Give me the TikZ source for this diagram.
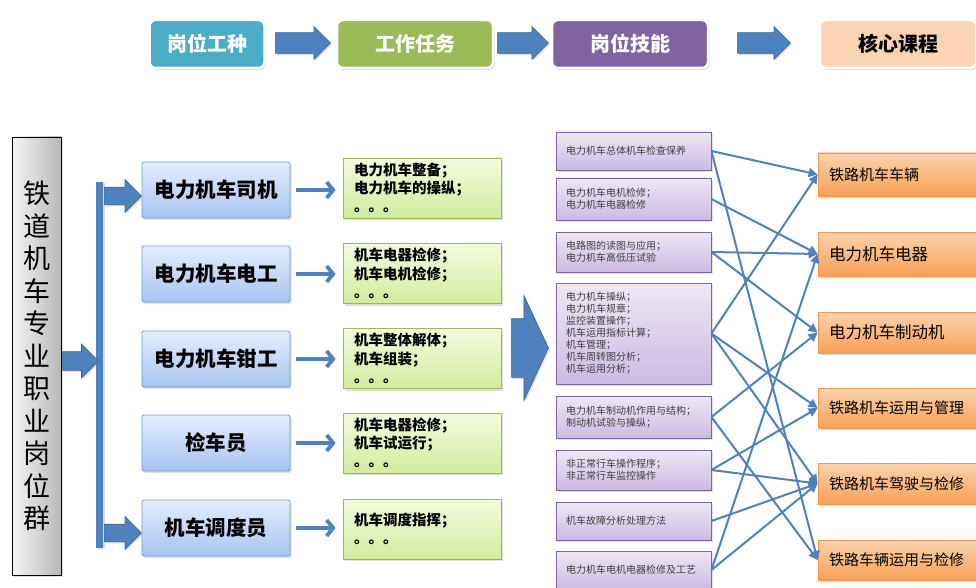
\documentclass[tikz,border=0pt]{standalone}
\usepackage{fontspec}
\setmainfont{Noto Sans CJK SC}
\usetikzlibrary{shapes.arrows, shadows, arrows.meta, positioning}

\definecolor{arrowblue}{HTML}{4F81BD}
\definecolor{arrowedge}{HTML}{3A6598}
\definecolor{hteal}{HTML}{4BACC6}
\definecolor{hgreen}{HTML}{9BBB59}
\definecolor{hpurple}{HTML}{8064A2}
\definecolor{hpeach}{HTML}{FBD4B4}
\definecolor{roletop}{HTML}{E4EEFC}
\definecolor{rolebot}{HTML}{A6C4F0}
\definecolor{roleedge}{HTML}{6F9DD8}
\definecolor{tasktop}{HTML}{F3FADF}
\definecolor{taskbot}{HTML}{D2EC9C}
\definecolor{skilltop}{HTML}{EEE8F5}
\definecolor{skillbot}{HTML}{CBBAE1}
\definecolor{coursetop}{HTML}{FCD3AE}
\definecolor{coursebot}{HTML}{F8A055}
\definecolor{courseedge}{HTML}{F79646}

\tikzset{
  head/.style={draw=white, line width=2.5pt, rounded corners=6pt,
    minimum width=156pt, minimum height=48pt, text=white,
    font=\fontsize{20}{24}\selectfont\bfseries,
    drop shadow={opacity=.3, shadow xshift=1.5pt, shadow yshift=-2pt}},
  fatarrow/.style={single arrow, draw=arrowedge, fill=arrowblue, anchor=tail,
    inner xsep=0pt, line width=.7pt,
    drop shadow={opacity=.25, shadow xshift=1.5pt, shadow yshift=-1.5pt}},
  role/.style={draw=roleedge, line width=.8pt, rounded corners=1.5pt,
    top color=roletop, bottom color=rolebot, minimum width=148pt, minimum height=56pt,
    font=\fontsize{20.5}{24}\selectfont\bfseries,
    drop shadow={opacity=.25, shadow xshift=1.5pt, shadow yshift=-2pt}},
  task/.style={draw=hgreen, line width=.8pt, top color=tasktop, bottom color=taskbot,
    minimum height=60pt, text width=136pt, inner xsep=11pt, align=left,
    font=\fontsize{14.5}{18.3}\selectfont\bfseries,
    drop shadow={opacity=.25, shadow xshift=1.5pt, shadow yshift=-2pt}},
  skill/.style={draw=hpurple, line width=.8pt, top color=skilltop,
    bottom color=skillbot, minimum width=155pt, text width=135pt,
    inner xsep=10pt, align=left, text=black!75,
    font=\fontsize{10}{12}\selectfont,
    drop shadow={opacity=.25, shadow xshift=1.5pt, shadow yshift=-2pt}},
  course/.style={draw=courseedge, line width=.8pt, top color=coursetop,
    bottom color=coursebot, minimum width=170pt, text width=148pt,
    inner xsep=11pt, align=left, font=\fontsize{15}{18}\selectfont,
    drop shadow={opacity=.25, shadow xshift=1.5pt, shadow yshift=-2pt}},
  todo/.style={draw=arrowblue, line width=3.8pt,
    -{Straight Barb[length=6.5pt,width=16pt]}, shorten <=6pt, shorten >=7pt},
  link/.style={draw=arrowblue, line width=2pt,
    -{Triangle[length=9pt,width=9pt]}}
}

\begin{document}
\begin{tikzpicture}[x=1pt, y=-1pt]
  \useasboundingbox (0,0) rectangle (976,588);

  % header row
  \node[head, fill=hteal, minimum width=115pt] (gongzhong) at (207,44) {岗位工种};
  \node[head, fill=hgreen] (renwu) at (415,44) {工作任务};
  \node[head, fill=hpurple] (jineng) at (630,44) {岗位技能};
  \node[head, fill=hpeach, text=black] (kecheng) at (898,44) {核心课程};

  \node[fatarrow, minimum height=55pt, inner ysep=10pt,
    single arrow head extend=6pt] (headA) at (275,43) {};
  \node[fatarrow, minimum height=51pt, inner ysep=10pt,
    single arrow head extend=6pt] (headB) at (497,43) {};
  \node[fatarrow, minimum height=53pt, inner ysep=10pt,
    single arrow head extend=6pt] (headC) at (737,43) {};

  % left column
  \node[draw, line width=.8pt, left color=black!4, right color=black!28,
    minimum width=49pt, minimum height=438pt, align=center,
    font=\fontsize{27}{32.5}\selectfont,
    drop shadow={opacity=.25, shadow xshift=1.5pt, shadow yshift=-2pt}]
    (qun) at (36.5,356)
    {铁\\道\\机\\车\\专\\业\\职\\业\\岗\\位\\群};
  \node[fill=arrowblue, minimum width=7pt, minimum height=366pt, inner sep=0pt,
    drop shadow={opacity=.3, shadow xshift=2pt, shadow yshift=-1pt}]
    (bar) at (99.5,365) {};
  \node[fatarrow, minimum height=36pt, inner ysep=9pt,
    single arrow head extend=7.5pt] (qunA) at (62,361) {};
  \node[fatarrow, minimum height=37pt, inner ysep=8.5pt,
    single arrow head extend=7.5pt] (barA) at (104,196) {};
  \node[fatarrow, minimum height=37pt, inner ysep=8.5pt,
    single arrow head extend=7.5pt] (barB) at (104,533) {};

  % roles
  \node[role] (siji)   at (216,190) {电力机车司机};
  \node[role] (diangong) at (216,274) {电力机车电工};
  \node[role] (qiangong) at (216,359) {电力机车钳工};
  \node[role] (jianche)  at (216,443) {检车员};
  \node[role] (diaodu)   at (216,528) {机车调度员};

  % tasks
  \node[task] (t1) at (422,188) {电力机车整备；\\电力机车的操纵；\\。。。};
  \node[task] (t2) at (422,273.5) {机车电器检修；\\机车电机检修；\\。。。};
  \node[task] (t3) at (422,358.5) {机车整体解体；\\机车组装；\\。。。};
  \node[task] (t4) at (422,443) {机车电器检修；\\机车试运行；\\。。。};
  \node[task] (t5) at (422,529) {机车调度指挥；\\。。。};

  \draw[todo] (siji.east) -- (siji.east -| t1.west);
  \draw[todo] (diangong.east) -- (diangong.east -| t2.west);
  \draw[todo] (qiangong.east) -- (qiangong.east -| t3.west);
  \draw[todo] (jianche.east) -- (jianche.east -| t4.west);
  \draw[todo] (diaodu.east) -- (diaodu.east -| t5.west);

  \node[fatarrow, minimum height=37pt, inner ysep=29pt,
    single arrow head extend=23pt, single arrow tip angle=130] (bigA) at (511,348) {};

  % skills
  \node[skill, minimum height=38pt] (s1) at (633.5,151) {电力机车总体机车检查保养};
  \node[skill, minimum height=42pt] (s2) at (633.5,199) {电力机车电机检修；\\电力机车电器检修};
  \node[skill, minimum height=40pt] (s3) at (633.5,252) {电路图的读图与应用；\\电力机车高低压试验};
  \node[skill, minimum height=101pt] (s4) at (633.5,333.5)
    {电力机车操纵；\\电力机车规章；\\监控装置操作；\\机车运用指标计算；\\机车管理；\\机车周转图分析；\\机车运用分析；};
  \node[skill, minimum height=42pt] (s5) at (633.5,417) {电力机车制动机作用与结构；\\制动机试验与操纵；};
  \node[skill, minimum height=40pt] (s6) at (633.5,470) {非正常行车操作程序；\\非正常行车监控操作};
  \node[skill, minimum height=38pt] (s7) at (633.5,521) {机车故障分析处理方法};
  \node[skill, minimum height=38pt] (s8) at (633.5,570) {电力机车电机电器检修及工艺};

  % courses
  \node[course, minimum height=43pt] (c1) at (903,174.5) {铁路机车车辆};
  \node[course, minimum height=44pt, font=\fontsize{16.5}{19}\selectfont] (c2) at (903,254) {电力机车电器};
  \node[course, minimum height=41pt, font=\fontsize{16.5}{19}\selectfont] (c3) at (903,332.5) {电力机车制动机};
  \node[course, minimum height=40pt] (c4) at (903,408) {铁路机车运用与管理};
  \node[course, minimum height=41pt] (c5) at (903,483.5) {铁路机车驾驶与检修};
  \node[course, minimum height=40pt] (c6) at (903,560) {铁路车辆运用与检修};

  \foreach \a/\b in {s1/c1, s1/c6, s2/c2, s3/c2, s3/c3, s4/c1, s4/c4, s4/c5,
      s5/c3, s5/c6, s6/c4, s6/c5, s7/c5, s8/c5, s8/c2}
    \draw[link] (\a.east) -- (\b.west);
\end{tikzpicture}
\end{document}
